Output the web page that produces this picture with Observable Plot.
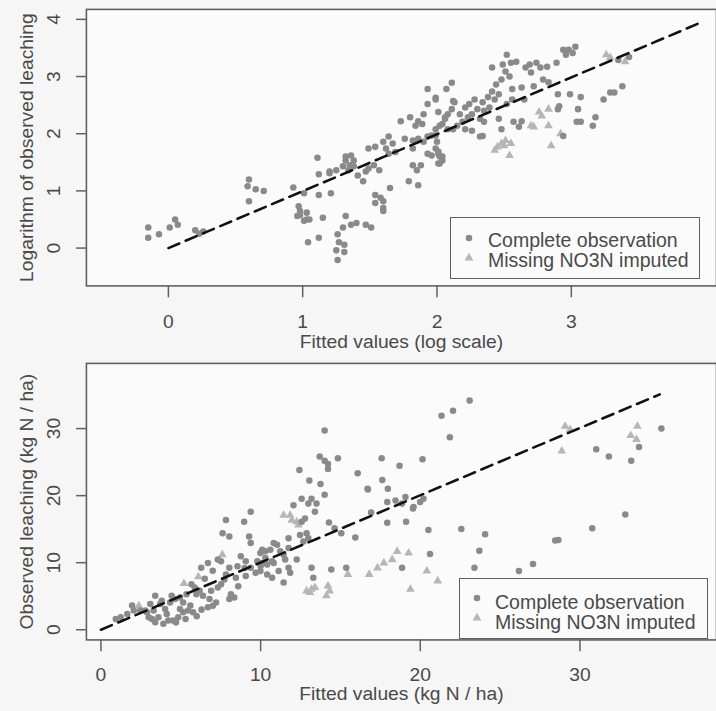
<!DOCTYPE html>
<html><head><meta charset="utf-8">
<script src="https://cdn.jsdelivr.net/npm/d3@7"></script>
<script src="https://cdn.jsdelivr.net/npm/@observablehq/plot@0.6"></script>
<style>
html,body{margin:0;padding:0;background:#f6f6f6;}
#wrap{position:relative;width:716px;height:711px;overflow:hidden;background:#f6f6f6;}
.panel{position:absolute;left:0;}
.legend{position:absolute;border:1.6px solid #5f5f5f;box-sizing:border-box;background:#fbfbfb;font-family:"Liberation Sans",Arial,sans-serif;font-size:19.5px;color:#4a4a4a;}
.legend .row{position:absolute;height:22px;line-height:22px;white-space:nowrap;}
.legend svg{position:absolute;overflow:visible;}
</style></head>
<body><div id="wrap"></div>
<script>
// ---------- data ----------
const topComplete = [
[-0.15,0.36],[-0.15,0.18],[-0.07,0.24],[0.01,0.36],[0.05,0.50],[0.07,0.41],[0.20,0.31],[0.23,0.25],[0.26,0.29],
[0.60,1.20],[0.59,1.08],[0.65,1.03],[0.71,1.00],[0.60,0.82],
[0.93,1.06],[0.97,0.73],[0.98,0.65],[1.03,0.62],[0.96,0.56],[1.03,0.50],[1.04,0.10],[1.12,0.18],
[1.11,1.58],[1.12,1.29],[1.12,0.93],[1.21,0.96],[1.15,0.53],[1.01,0.96],[0.98,0.58],[1.01,0.48],[1.05,0.50],
[1.26,0.24],[1.27,0.10],[1.25,-0.04],[1.31,0.06],[1.31,-0.07],[1.26,-0.21],[1.32,0.56],[1.30,0.36],[1.36,0.41],[1.40,0.44],[1.47,0.41],[1.51,0.36],
[1.20,1.31],[1.25,1.36],[1.30,1.43],[1.32,1.53],[1.35,1.45],[1.20,1.34],
[1.32,1.60],[1.36,1.62],[1.38,1.53],[1.34,1.36],[1.38,1.43],[1.41,1.27],[1.45,1.17],[1.47,1.34],[1.49,1.39],[1.53,1.45],[1.57,1.36],
[1.49,1.74],[1.54,1.77],[1.60,1.86],[1.64,1.95],[1.67,1.83],[1.62,1.74],[1.69,1.68],[1.64,1.65],
[1.54,0.93],[1.58,0.88],[1.60,0.82],[1.60,0.70],[1.60,0.65],[1.65,1.05],[1.54,0.79],
[1.73,2.22],[1.80,2.29],[1.86,2.22],[1.90,2.34],[1.93,2.52],[1.99,2.63],[1.93,2.78],[1.84,2.14],[1.89,2.17],
[1.76,1.91],[1.82,1.88],[1.86,1.91],[1.90,1.86],[1.82,1.74],[1.93,1.95],[1.96,1.97],[1.99,2.08],[2.04,2.17],[2.06,2.26],[2.08,2.34],[2.11,2.43],
[1.82,1.45],[1.85,1.36],[1.88,1.45],[1.93,1.65],[1.96,1.62],[2.01,1.65],[2.04,1.60],[1.99,1.74],
[1.79,1.17],[1.86,1.10],[2.01,1.48],[2.04,1.53],[2.07,2.78],[2.11,2.89],[2.12,2.57],
[1.99,2.60],[2.01,2.38],[2.06,2.29],[2.02,2.14],[1.99,1.97],[2.00,1.86],[2.01,1.69],[2.02,1.60],[2.02,1.48],[2.13,2.55],
[2.08,2.08],[2.12,2.08],[2.15,2.14],[2.19,2.21],[2.23,2.29],[2.26,2.34],[2.30,2.43],[2.34,2.55],[2.38,2.64],[2.41,2.74],[2.44,2.86],[2.48,2.95],[2.54,3.00],[2.51,3.09],[2.52,3.38],[2.41,3.16],[2.49,3.21],[2.55,3.24],[2.59,3.26],
[2.17,2.34],[2.21,2.46],[2.24,2.52],[2.28,2.60],[2.32,2.26],[2.35,2.40],[2.39,2.46],[2.43,2.60],[2.46,2.69],[2.21,2.08],[2.26,2.05],[2.32,1.95],[2.35,2.21],[2.46,2.26],[2.48,2.08],[2.57,2.21],[2.63,2.22],[2.61,2.12],[2.34,1.96],
[2.66,3.16],[2.70,3.07],[2.74,3.24],[2.77,3.16],[2.82,3.17],[2.89,3.24],[2.79,2.95],[2.83,2.90],[2.72,2.83],[2.63,2.81],[2.56,2.78],[2.56,2.60],[2.65,2.60],[2.52,2.52],[2.69,3.21],
[2.94,3.47],[2.98,3.47],[3.03,3.52],[2.96,3.38],[3.01,3.41],[2.90,2.69],[2.99,2.69],[3.07,2.64],[2.90,2.43],[3.05,2.43],[3.07,2.21],[3.18,2.29],[3.16,2.14],[3.24,2.60],[3.29,2.72],[3.38,2.83],[3.32,2.72],[2.91,2.48],[3.04,2.21],[2.94,1.96],[3.35,3.29],[3.43,3.34]
];
const topImputed = [
[2.83,2.43],[2.78,2.31],[2.72,2.12],[2.83,2.14],[2.92,2.00],[2.85,1.79],[2.76,2.38],[2.70,2.14],
[2.45,1.77],[2.48,1.83],[2.51,1.88],[2.55,1.83],[2.54,1.62],[2.43,1.71],[2.50,1.79],
[3.26,3.38],[3.29,3.33],[3.40,3.26]
];
const topLine = [[0,0],[3.94,3.92]];

const bottomComplete = [
[0.93,1.62],[1.24,1.87],[1.65,2.36],[1.95,3.60],[2.06,2.86],[2.47,2.86],[2.78,2.86],[2.88,2.60],[2.99,1.87],[3.19,1.62],[3.40,1.13],[3.60,1.87],[3.91,0.88],[4.22,1.38],[4.12,2.36],[4.53,1.38],[4.84,1.87],[5.15,2.60],[5.46,2.86],[5.77,2.60],[4.95,3.09],[4.02,3.09],[3.71,3.83],[3.40,5.07],[4.33,4.08],[4.64,4.57],[4.43,5.07],[4.95,4.82],[5.15,4.08],[5.36,5.30],[5.67,6.77],[5.87,6.29],[5.98,5.30],[6.18,5.80],[6.39,5.07],[6.70,3.34],[7.01,3.59],[7.21,4.08],[6.80,4.57],[6.90,5.80],[7.32,6.29],[7.52,6.77],[7.73,7.51],[8.14,5.30],[8.35,4.82],[8.04,4.57],
[6.28,9.23],[6.70,9.97],[7.32,10.46],[7.52,10.22],[8.04,9.23],[8.55,9.48],[8.76,10.96],[9.07,10.22],[9.38,9.23],[9.69,8.50],[9.79,10.22],[9.99,11.44],[10.30,10.71],[10.72,10.22],[10.72,7.76],[10.41,8.25],[9.07,8.01],[8.45,7.76],[7.83,8.25],[7.62,14.39],[8.04,13.90],[7.83,16.35],[8.97,16.11],[9.38,17.58],[9.28,13.90],[9.38,12.92],[10.10,11.93],[10.82,12.92],[10.61,11.93],[3.09,3.83],[3.81,4.33],[3.30,2.86],
[4.70,1.10],[5.30,1.60],[6.00,2.00],[6.30,3.00],[5.60,3.60],[6.50,7.60],[7.00,8.80],[8.60,6.50],[9.00,9.20],[10.00,9.50],
[14.01,29.70],[13.70,25.83],[14.01,25.19],[14.22,24.70],[14.22,23.96],[14.84,25.58],[12.43,23.81],[13.05,22.24],[13.75,21.75],[14.01,20.13],[12.57,19.54],[12.99,18.81],[13.19,19.54],[13.50,18.81],[13.40,17.58],[12.06,18.56],[12.57,16.11],[12.78,16.60],
[12.47,14.14],[12.88,14.39],[12.68,13.17],[12.99,13.65],[11.75,13.65],[11.03,12.67],[11.23,11.69],[11.44,11.19],[11.75,12.18],[11.54,10.46],[10.30,11.69],[10.10,9.97],[9.99,8.75],[10.41,9.72],[10.82,9.97],[11.13,8.75],[11.75,9.23],[11.85,8.50],[11.44,7.03],[12.26,10.46],[13.19,9.23],[13.30,7.76],[14.43,8.99],[15.36,9.23],
[14.28,16.01],[14.63,15.12],[15.05,14.39],[15.93,13.76],[16.08,23.33],[16.70,21.02],[17.58,25.58],[18.70,24.45],[20.14,25.43],[17.62,22.34],[17.97,21.02],[17.93,19.06],[18.45,19.29],[18.86,18.81],[19.07,19.79],[19.58,18.32],[19.99,19.06],[20.20,19.54],[17.93,15.96],[19.11,16.11],[20.51,14.87],[16.92,17.48],[19.54,18.07],[16.72,20.92],
[18.86,9.23],[20.61,11.30],
[23.09,34.17],[21.33,31.91],[22.05,32.65],[21.85,28.72],[22.57,15.02],[24.06,14.24],[23.70,11.78],[23.39,9.23],[26.18,8.75],[27.06,9.82],[28.45,13.31],[28.65,13.40],[30.77,15.12],[32.84,17.19],[31.02,26.91],[31.81,25.83],[33.21,25.19],[33.70,27.25],[35.10,30.00]
];
const bottomImputed = [
[11.85,17.08],[11.44,17.08],[11.95,16.35],[12.26,16.11],[12.37,15.61],
[12.88,5.80],[13.19,6.04],[13.40,6.29],[13.09,5.55],[14.22,6.54],[14.32,5.80],[14.12,5.07],[15.46,8.25],
[16.80,8.25],[17.32,9.23],[17.72,9.97],[18.24,10.46],[18.55,11.69],[19.27,11.44],
[19.38,6.04],[21.09,7.28],[20.41,8.75],
[29.07,30.34],[29.38,29.85],[28.86,26.66],[33.60,30.34],[33.18,28.97],[33.54,28.38],
[2.37,3.60],[6.10,7.90],[5.20,6.90],[7.60,11.20]
];
const bottomLine = [[0,0],[35.0,35.1]];

const topXTicks = [0,1,2,3];
const topYTicks = [0,1,2,3,4];
const bottomXTicks = [0,10,20,30];
const bottomYTicks = [0,10,20,30];
const legendLabels = ["Complete observation","Missing NO3N imputed"];

// ---------- drawing ----------
const FONT = "Liberation Sans, Arial, sans-serif";
const TEXT = "#4a4a4a", LINE = "#5f5f5f";
const C_COMPLETE = "#8a8a8a", C_IMPUTED = "#b6b6b6";
const fmt = d => String(d);

function panel(o) {
  return Plot.plot({
    width: 725, height: o.height,
    marginLeft: 87, marginRight: 0, marginTop: o.marginTop, marginBottom: o.marginBottom,
    style: {background: "transparent", fontFamily: FONT, fontSize: "19.5px", color: TEXT, overflow: "visible"},
    x: {domain: o.xDomain},
    y: {domain: o.yDomain},
    marks: [
      Plot.frame({fill: "#fbfbfb"}),
      Plot.dot(o.imputed, {x: d => d[0], y: d => d[1], symbol: "triangle", r: 3.3, fill: C_IMPUTED, stroke: "none"}),
      Plot.dot(o.complete, {x: d => d[0], y: d => d[1], r: 3.3, fill: C_COMPLETE, stroke: "none"}),
      Plot.line(o.line, {x: d => d[0], y: d => d[1], stroke: "#111", strokeWidth: 2.6, strokeDasharray: "12,7"}),
      Plot.frame({stroke: LINE, strokeWidth: 1.6}),
      Plot.axisX({ticks: o.xTicks, tickFormat: fmt, tickSize: 12, tickPadding: o.xPad, stroke: LINE, strokeWidth: 1.5,
        fontSize: 19.5, label: o.xLabel, labelAnchor: "center", labelOffset: o.xLabelOffset, labelArrow: "none"}),
      Plot.axisY({ticks: o.yTicks, tickFormat: fmt, tickSize: 10, tickPadding: 17, tickRotate: -90, stroke: LINE, strokeWidth: 1.5,
        fontSize: 19.5, label: o.yLabel, labelAnchor: "center", labelOffset: 68, labelArrow: "none"})
    ]
  });
}

const wrap = document.getElementById("wrap");

const p1 = panel({
  height: 356, marginTop: 9, marginBottom: 67,
  xDomain: [-0.6103, 4.0809], yDomain: [-0.6615, 4.1744],
  xTicks: topXTicks, yTicks: topYTicks, xPad: 17, xLabelOffset: 63,
  complete: topComplete, imputed: topImputed, line: topLine,
  xLabel: "Fitted values (log scale)", yLabel: "Logarithm of observed leaching"
});
p1.classList.add("panel"); p1.style.top = "0px";
wrap.appendChild(p1);

const p2 = panel({
  height: 355, marginTop: 7, marginBottom: 68,
  xDomain: [-0.909, 38.55], yDomain: [-1.517, 39.72],
  xTicks: bottomXTicks, yTicks: bottomYTicks, xPad: 16, xLabelOffset: 61,
  complete: bottomComplete, imputed: bottomImputed, line: bottomLine,
  xLabel: "Fitted values (kg N / ha)", yLabel: "Observed leaching (kg N / ha)"
});
p2.classList.add("panel"); p2.style.top = "356px";
wrap.appendChild(p2);

function legend(box) {
  const div = document.createElement("div");
  div.className = "legend";
  Object.assign(div.style, {left: box.left + "px", top: box.top + "px", width: box.width + "px", height: box.height + "px"});
  const symbols = [
    `<circle r="3.3" fill="${C_COMPLETE}"/>`,
    `<path d="${d3.symbol(d3.symbolTriangle, Math.PI * 3.3 * 3.3)()}" fill="${C_IMPUTED}"/>`
  ];
  legendLabels.forEach((lab, i) => {
    const cy = box.rows[i];
    const svg = document.createElementNS("http://www.w3.org/2000/svg", "svg");
    svg.setAttribute("width", 1); svg.setAttribute("height", 1);
    svg.style.left = box.symX + "px"; svg.style.top = box.symY[i] + "px";
    svg.innerHTML = symbols[i];
    div.appendChild(svg);
    const row = document.createElement("div");
    row.className = "row";
    row.style.left = box.textX + "px";
    row.style.top = (cy - 11) + "px";
    row.textContent = lab;
    div.appendChild(row);
  });
  wrap.appendChild(div);
}
legend({left: 450, top: 217, width: 250, height: 62, rows: [22, 42], symX: 18, symY: [20, 40], textX: 37});
legend({left: 459, top: 578, width: 249, height: 61, rows: [22.5, 43], symX: 17, symY: [19, 38.5], textX: 35});
</script></body></html>
